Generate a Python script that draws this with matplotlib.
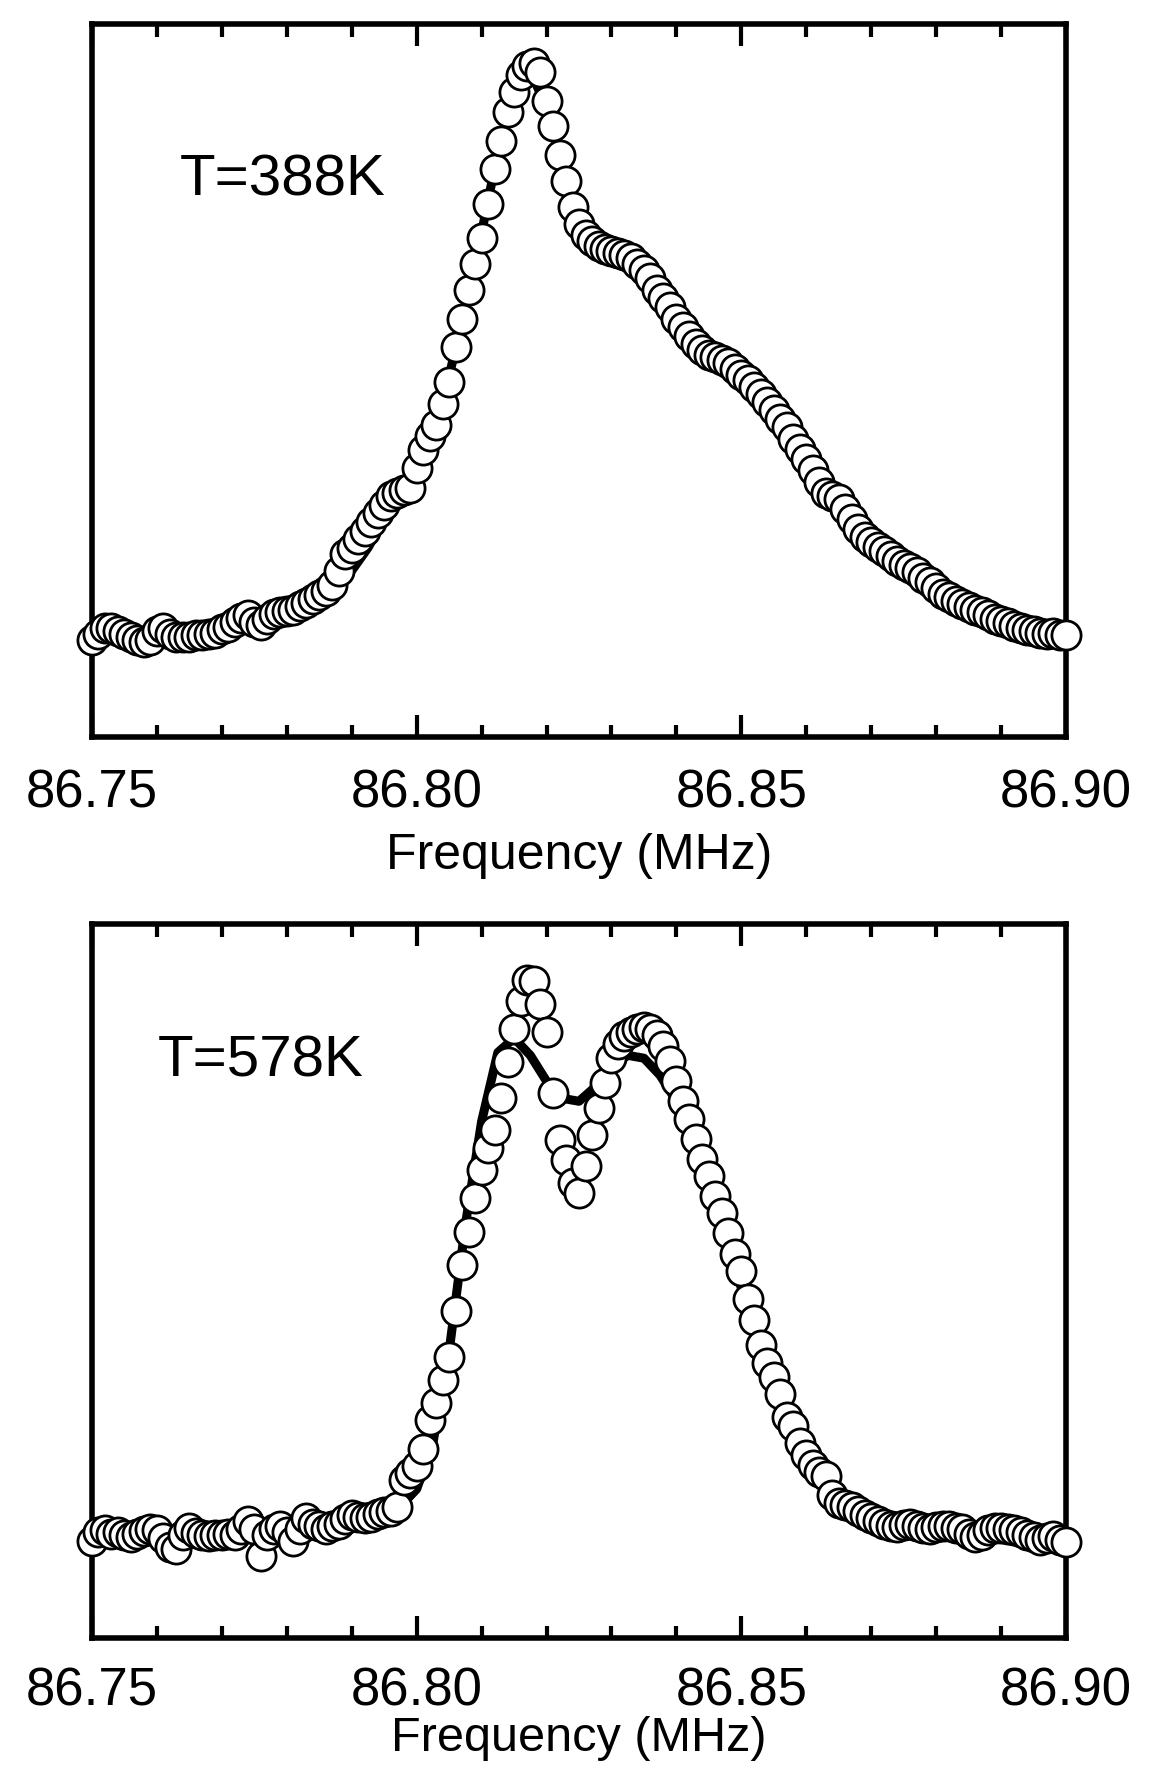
import numpy as np
import matplotlib
matplotlib.use("Agg")
import matplotlib.pyplot as plt
from matplotlib.ticker import MultipleLocator, FormatStrFormatter

plt.rcParams['font.family'] = ['Liberation Sans', 'DejaVu Sans']

# frequency range of the sweeps (MHz), points taken every 1 kHz
f_min, f_max = 86.75, 86.90

# T = 388 K, measured intensity (baseline = 0, peak = 1)
int_388 = [
    0.000, 0.010, 0.020, 0.020, 0.015, 0.010, 0.005, 0.000, -0.005, 0.000,
    0.015, 0.020, 0.010, 0.005, 0.005, 0.005, 0.008, 0.008, 0.010, 0.012,
    0.018, 0.022, 0.030, 0.038, 0.042, 0.030, 0.025, 0.035, 0.045, 0.048,
    0.050, 0.052, 0.058, 0.064, 0.070, 0.078, 0.085, 0.095, 0.120, 0.150,
    0.160, 0.175, 0.190, 0.205, 0.220, 0.235, 0.250, 0.255, 0.260, 0.265,
    0.300, 0.330, 0.355, 0.375, 0.410, 0.450, 0.510, 0.560, 0.610, 0.655,
    0.700, 0.760, 0.820, 0.870, 0.920, 0.955, 0.985, 1.000, 1.005, 0.990,
    0.940, 0.895, 0.845, 0.800, 0.755, 0.725, 0.705, 0.695, 0.687, 0.682,
    0.678, 0.674, 0.670, 0.665, 0.655, 0.645, 0.630, 0.610, 0.595, 0.580,
    0.560, 0.545, 0.530, 0.515, 0.505, 0.497, 0.492, 0.487, 0.482, 0.472,
    0.462, 0.452, 0.440, 0.428, 0.415, 0.400, 0.385, 0.370, 0.350, 0.333,
    0.315, 0.296, 0.275, 0.256, 0.250, 0.245, 0.228, 0.210, 0.192, 0.178,
    0.170, 0.162, 0.154, 0.145, 0.137, 0.130, 0.125, 0.118, 0.108, 0.100,
    0.090, 0.080, 0.075, 0.068, 0.062, 0.057, 0.052, 0.048, 0.042, 0.036,
    0.032, 0.028, 0.024, 0.020, 0.017, 0.014, 0.012, 0.010, 0.012, 0.008,
    0.008,
]

# T = 388 K, fitted line shape, every 2.5 kHz
fit_388 = [
    0.005, 0.008, 0.008, 0.008, 0.010, 0.012, 0.014, 0.016, 0.020, 0.028,
    0.035, 0.043, 0.052, 0.062, 0.076, 0.095, 0.120, 0.160, 0.210, 0.255,
    0.300, 0.370, 0.460, 0.580, 0.710, 0.850, 0.960, 0.990, 0.930, 0.820,
    0.735, 0.690, 0.670, 0.660, 0.645, 0.600, 0.560, 0.525, 0.500, 0.480,
    0.460, 0.435, 0.400, 0.360, 0.315, 0.270, 0.235, 0.200, 0.170, 0.150,
    0.130, 0.112, 0.090, 0.072, 0.057, 0.045, 0.033, 0.022, 0.015, 0.011,
    0.009,
]

# T = 578 K, measured intensity
int_578 = [
    0.000, 0.015, 0.018, 0.012, 0.016, 0.010, 0.006, 0.012, 0.017, 0.020,
    0.018, 0.005, -0.010, -0.015, 0.010, 0.022, 0.014, 0.010, 0.008, 0.010,
    0.010, 0.012, 0.010, 0.020, 0.035, 0.020, -0.026, 0.010, 0.020, 0.026,
    0.015, 0.000, 0.020, 0.040, 0.030, 0.026, 0.020, 0.025, 0.030, 0.038,
    0.045, 0.042, 0.040, 0.042, 0.046, 0.050, 0.052, 0.058, 0.105, 0.118,
    0.130, 0.160, 0.210, 0.240, 0.280, 0.320, 0.400, 0.480, 0.537, 0.596,
    0.645, 0.683, 0.715, 0.770, 0.833, 0.890, 0.940, 0.976, 0.975, 0.935,
    0.885, 0.780, 0.697, 0.662, 0.622, 0.606, 0.653, 0.706, 0.754, 0.796,
    0.840, 0.865, 0.878, 0.886, 0.890, 0.894, 0.890, 0.880, 0.862, 0.835,
    0.800, 0.765, 0.735, 0.700, 0.665, 0.635, 0.600, 0.570, 0.535, 0.500,
    0.470, 0.420, 0.385, 0.340, 0.310, 0.285, 0.255, 0.215, 0.200, 0.170,
    0.150, 0.132, 0.120, 0.112, 0.080, 0.066, 0.062, 0.058, 0.052, 0.045,
    0.040, 0.035, 0.030, 0.026, 0.024, 0.028, 0.030, 0.026, 0.022, 0.020,
    0.024, 0.026, 0.025, 0.022, 0.020, 0.012, 0.006, 0.010, 0.018, 0.022,
    0.022, 0.020, 0.018, 0.015, 0.010, 0.006, 0.002, 0.004, 0.008, 0.002,
    -0.002,
]

# T = 578 K, fitted line shape, every 2.5 kHz
fit_578 = [
    0.012, 0.012, 0.012, 0.012, 0.012, 0.012, 0.012, 0.013, 0.014, 0.015,
    0.016, 0.018, 0.020, 0.022, 0.025, 0.028, 0.032, 0.037, 0.045, 0.060,
    0.090, 0.170, 0.330, 0.550, 0.730, 0.850, 0.875, 0.845, 0.800, 0.770,
    0.765, 0.790, 0.825, 0.845, 0.840, 0.810, 0.765, 0.700, 0.620, 0.530,
    0.440, 0.360, 0.290, 0.225, 0.170, 0.120, 0.080, 0.052, 0.038, 0.030,
    0.025, 0.022, 0.020, 0.018, 0.017, 0.016, 0.015, 0.014, 0.013, 0.012,
    0.012,
]

labels = ["T=388K", "T=578K"]
label_pos = [(0.090, 0.781), (0.068, 0.807)]
tick_pads = [23, 20]
xlabel_pads = [10, 0]
xlabel_sizes = [36, 35]
tick_values = [86.75, 86.80, 86.85, 86.90]

fig = plt.figure(figsize=(11.5, 17.69), dpi=100)
ax_top = fig.add_axes([0.080, 0.5834, 0.847, 0.4031])
ax_bot = fig.add_axes([0.080, 0.0738, 0.847, 0.4040])

panels = [(ax_top, int_388, fit_388), (ax_bot, int_578, fit_578)]

for i, (ax, data, fit) in enumerate(panels):
    f_data = np.linspace(f_min, f_max, len(data))
    f_fit = np.linspace(f_min, f_max, len(fit))

    # fitted curve underneath the open circles
    ax.plot(f_fit, fit, color='black', lw=6.5, solid_capstyle='round',
            solid_joinstyle='round', zorder=2)
    ax.plot(f_data, data, linestyle='none', marker='o', markersize=21,
            markerfacecolor='white', markeredgecolor='black',
            markeredgewidth=2.0, zorder=3, clip_on=False)

    ax.set_xlim(f_min, f_max)
    ax.set_ylim(-0.17, 1.074)
    ax.set_yticks([])
    ax.set_xticks(tick_values)
    ax.xaxis.set_minor_locator(MultipleLocator(0.01))
    ax.xaxis.set_major_formatter(FormatStrFormatter('%.2f'))
    ax.tick_params(axis='x', which='both', direction='in', top=True,
                   bottom=True, width=3, labelsize=38, pad=tick_pads[i])
    ax.tick_params(axis='x', which='major', length=16)
    ax.tick_params(axis='x', which='minor', length=9)
    for sp in ax.spines.values():
        sp.set_linewidth(4)

    ax.set_xlabel("Frequency (MHz)", fontsize=xlabel_sizes[i],
                  labelpad=xlabel_pads[i])
    ax.text(label_pos[i][0], label_pos[i][1], labels[i], transform=ax.transAxes,
            fontsize=42, va='center', ha='left')

fig.savefig("out.png", dpi=100)
